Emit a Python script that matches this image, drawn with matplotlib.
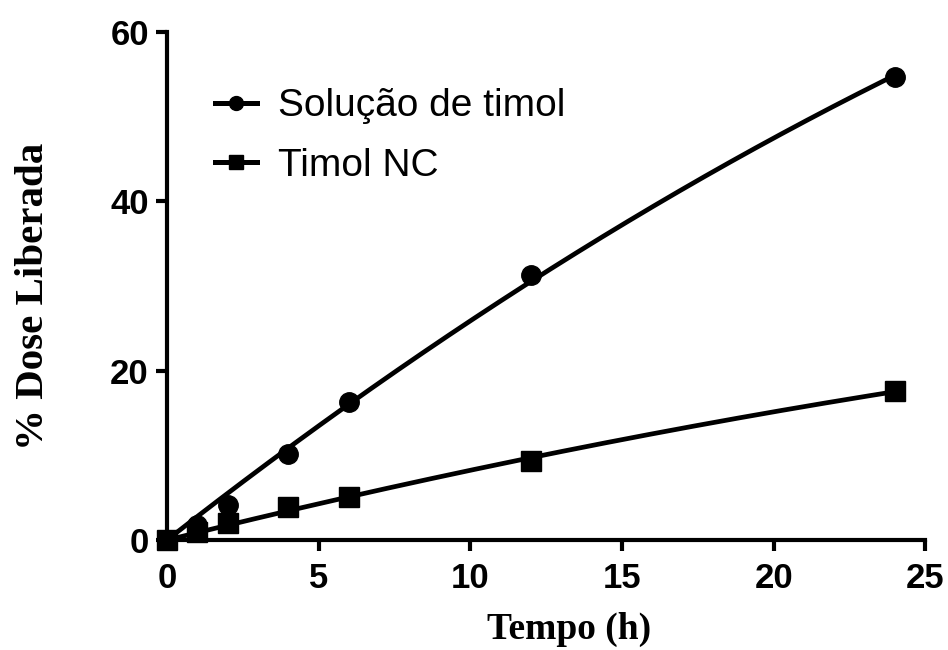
import numpy as np
import matplotlib.pyplot as plt

# tempo de coleta (h) e % de dose liberada
tempo = [0, 1, 2, 4, 6, 12, 24]
solucao = [0.0, 1.8, 4.1, 10.2, 16.3, 31.3, 54.7]
timol_nc = [0.0, 1.0, 2.0, 3.9, 5.1, 9.4, 17.6]

plt.rcParams['font.family'] = ['Liberation Sans', 'DejaVu Sans']

fig = plt.figure(figsize=(9.48, 6.5), dpi=100)
ax = fig.add_axes([0.176, 0.169, 0.800, 0.782])


def ajuste(t, y):
    # y = a*t + b*t^2, passando pela origem
    t = np.asarray(t, float)
    A = np.column_stack([t, t ** 2])
    coef, *_ = np.linalg.lstsq(A, np.asarray(y, float), rcond=None)
    return coef


t_fit = np.linspace(0, 24, 200)
for y, m, lab in [(solucao, 'o', 'Solução de timol'), (timol_nc, 's', 'Timol NC')]:
    a, b = ajuste(tempo, y)
    ax.plot(t_fit, a * t_fit + b * t_fit ** 2, color='black', lw=3.4, zorder=2)
    ax.plot(tempo, y, linestyle='none', marker=m, color='black',
            markersize=14, clip_on=False, zorder=3)
    # entrada da legenda
    ax.plot([], [], color='black', lw=3.6, marker=m,
            markersize=10 if m == 'o' else 10.5, label=lab)

ax.set_xlim(0, 25)
ax.set_ylim(0, 60)
ax.set_xticks([0, 5, 10, 15, 20, 25])
ax.set_yticks([0, 20, 40, 60])

for s in ['top', 'right']:
    ax.spines[s].set_visible(False)
for s in ['left', 'bottom']:
    ax.spines[s].set_linewidth(3)
ax.tick_params(width=3, length=8, labelsize=25)
ax.tick_params(axis='x', pad=8)
ax.tick_params(axis='y', pad=5)
for lbl in ax.get_xticklabels() + ax.get_yticklabels():
    lbl.set_fontweight('bold')

ax.set_xlabel('Tempo (h)', family='Liberation Serif', fontweight='bold',
              fontsize=27, labelpad=12)
ax.set_ylabel('% Dose Liberada', family='Liberation Serif', fontweight='bold',
              fontsize=29.5, labelpad=42)
ax.xaxis.label.set_x(0.53)
ax.yaxis.label.set_y(0.48)

leg = ax.legend(loc='upper left', bbox_to_anchor=(0.018, 0.958), frameon=False,
                fontsize=28, handlelength=1.08, handletextpad=0.54, labelspacing=0.6)

fig.savefig('out.png', dpi=100)
